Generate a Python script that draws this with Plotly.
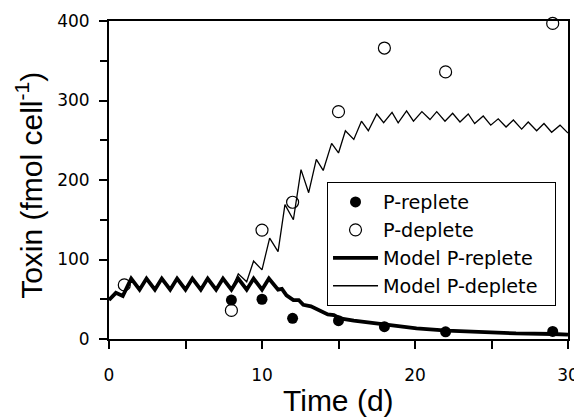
import plotly.graph_objects as go

# Measured data
t_replete = [8, 10, 12, 15, 18, 22, 29]
tox_replete = [49, 50, 26, 23, 15.5, 9, 9.5]
t_deplete = [1, 8, 10, 12, 15, 18, 22, 29]
tox_deplete = [68, 36, 137, 172, 286, 366, 336, 397]

# Model P-replete (vertices)
model_rep_t = [0, 0.45, 0.9, 1.45, 2.0, 2.45, 3.0, 3.45, 4.0, 4.45, 5.0, 5.45, 6.0, 6.45,
               7.0, 7.45, 8.0, 8.45, 9.0, 9.45, 10.0, 10.45, 11.05, 11.3, 11.6, 12.05,
               12.4, 12.7, 13.2, 13.6, 14.0, 14.3, 14.7, 15.1, 16.0, 16.8, 18.2, 20.1,
               22.1, 24.5, 26.6, 29.0, 30.0]
model_rep_v = [49, 58, 54, 76, 62, 76, 62, 76, 62, 76, 62, 76, 62, 76,
               62, 76, 62, 76, 62, 76, 62, 76, 62, 63, 55, 49,
               49, 43, 41, 37, 34, 31, 30, 26, 23, 21, 17.5, 13.5,
               10.5, 8.4, 7, 6.3, 5.5]

# Model P-deplete
model_dep_t = [0, 0.45, 0.9, 1.45, 2.0, 2.45, 3.0, 3.45, 4.0, 4.45, 5.0, 5.45, 6.0, 6.45,
               7.0, 7.45, 8.0, 8.45, 9.0, 9.45, 10.0, 10.5, 11.05, 11.5, 12.05, 12.55,
               13.05, 13.55, 14.0, 14.55, 15.0, 15.45, 16.0, 16.5, 16.95, 17.5, 17.95,
               18.5, 18.9, 19.45, 19.9, 20.45, 20.98, 21.42, 21.96, 22.46, 22.94, 23.48,
               23.9, 24.46, 24.95, 25.44, 25.95, 26.43, 26.97, 27.4, 27.95, 28.43, 28.93,
               29.48, 30.0]
model_dep_v = [49, 58, 54, 76, 62, 76, 62, 76, 62, 76, 62, 76, 62, 76,
               62, 76, 62, 82, 72, 98, 87, 127, 110, 169, 150, 213,
               184, 226, 212, 246, 234, 262, 251, 274, 262, 283, 272,
               285, 272, 287, 274, 286, 276, 286, 274, 284, 273, 283,
               271, 280.5, 269, 277, 266.6, 275.5, 264, 273, 262, 271, 260,
               269, 259]

x_ticks = [0, 10, 20, 30]
y_ticks = [0, 100, 200, 300, 400]

fig = go.Figure()

fig.add_trace(go.Scatter(x=model_dep_t, y=model_dep_v, mode="lines",
                         name="Model P-deplete\u00a0\u00a0",
                         line=dict(color="black", width=1.3), legendrank=4))
fig.add_trace(go.Scatter(x=model_rep_t, y=model_rep_v, mode="lines", name="Model P-replete",
                         line=dict(color="black", width=3.8), legendrank=3))
fig.add_trace(go.Scatter(x=t_replete, y=tox_replete, mode="markers", name="P-replete",
                         marker=dict(symbol="circle", size=11, color="black"),
                         cliponaxis=False, legendrank=1))
fig.add_trace(go.Scatter(x=t_deplete, y=tox_deplete, mode="markers", name="P-deplete",
                         marker=dict(symbol="circle-open", size=12, color="black",
                                     line=dict(width=1.2, color="black")),
                         cliponaxis=False, legendrank=2))

axis_common = dict(showline=True, linecolor="black", linewidth=2, mirror=True,
                   ticks="outside", tickcolor="black", tickwidth=1.5, ticklen=8,
                   showgrid=False, zeroline=False, automargin=False,
                   tickfont=dict(family="DejaVu Sans", size=17, color="black"))

fig.update_xaxes(range=[0, 30], tickvals=x_ticks, ticktext=[str(v) for v in x_ticks],
                 minor=dict(tickvals=[5, 15, 25], ticklen=8, tickcolor="black", tickwidth=1.5,
                            ticks="outside"),
                 ticklabelstandoff=12, **axis_common)
fig.update_yaxes(range=[0, 400], tickvals=y_ticks, ticktext=[str(v) for v in y_ticks],
                 minor=dict(tickvals=[50, 150, 250, 350], ticklen=7, tickcolor="black",
                            tickwidth=1.5, ticks="outside"),
                 ticklabelstandoff=6, **axis_common)

# page has an 8px body margin, so margins are compensated
fig.update_layout(
    width=582, height=420,
    margin=dict(l=101, r=22, t=13, b=89, autoexpand=False),
    paper_bgcolor="white", plot_bgcolor="white",
    font=dict(family="DejaVu Sans", color="black"),
    legend=dict(x=0.475, y=0.494, xanchor="left", yanchor="top",
                bordercolor="black", borderwidth=1, bgcolor="white",
                font=dict(family="DejaVu Sans", size=19.2, color="black"),
                itemwidth=45, tracegroupgap=0),
    annotations=[
        dict(text="Time (d)", x=0.5, y=-0.192, xref="paper", yref="paper",
             xanchor="center", yanchor="middle", showarrow=False,
             font=dict(family="Liberation Sans", size=30, color="black")),
        dict(text="Toxin (fmol cell<sup>-1</sup>)", x=-0.174, y=0.482, xref="paper", yref="paper",
             xanchor="center", yanchor="middle", showarrow=False, textangle=-90,
             font=dict(family="Liberation Sans", size=30, color="black")),
    ],
)

fig.write_html("out.html")
